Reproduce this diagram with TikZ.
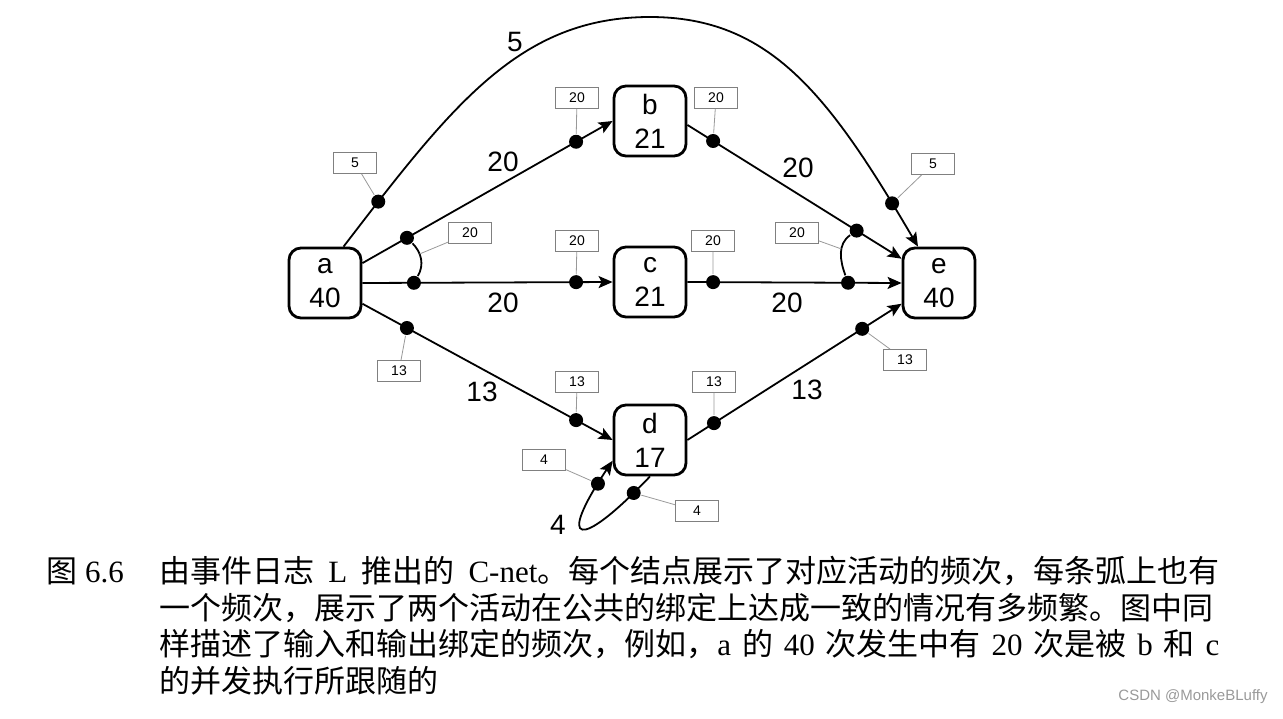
\documentclass[tikz,border=0pt]{standalone}
\usepackage{fontspec}
\setmainfont{Liberation Serif}
\setsansfont{Liberation Sans}
\newfontfamily\cjkfont{Noto Sans CJK SC}
\newcommand{\zhtext}[1]{{\cjkfont #1}}
\usepackage{tikz}
\usetikzlibrary{arrows.meta}
\definecolor{tagbox}{gray}{0.5}
\definecolor{tagline}{gray}{0.6}
\definecolor{wmark}{gray}{0.6}

\begin{document}
\begin{tikzpicture}[x=0.5pt,y=-0.5pt,
  font=\sffamily\fontsize{14}{17}\selectfont,
  act/.style={draw,line width=1.4pt,rounded corners=6pt,minimum width=36pt,minimum height=35pt,align=center,inner sep=0pt},
  flow/.style={line width=0.9pt,-{Stealth[length=7pt,width=6pt,inset=1.5pt]}},
  bind/.style={line width=0.9pt},
  dot/.style={circle,fill=black,minimum size=7pt,inner sep=0pt},
  tag/.style={draw=tagbox,line width=0.4pt,minimum width=21.5pt,minimum height=10.5pt,inner sep=0pt,font=\sffamily\fontsize{7}{8}\selectfont},
  link/.style={draw=tagline,line width=0.4pt},
  cnt/.style={inner sep=0pt},
  captext/.style={anchor=base west,inner sep=0pt,font=\rmfamily\fontsize{15.5}{18}\selectfont}
]
\useasboundingbox (0,0) rectangle (1283,718);

\node[act] (a) at (325,283) {a\\40};
\node[act] (b) at (650,121) {b\\21};
\node[act] (c) at (650,282) {c\\21};
\node[act] (d) at (650,440) {d\\17};
\node[act] (e) at (939,283) {e\\40};

\draw[flow] (a.28) -- (b.west) node[dot,pos=.178] (ab1) {} node[dot,pos=.854] (ab2) {};
\draw[flow] (a.east) -- (c.west) node[dot,pos=.206] (ac1) {} node[dot,pos=.854] (ac2) {};
\draw[flow] (a.-29) -- (d.west) node[dot,pos=.178] (ad1) {} node[dot,pos=.854] (ad2) {};
\draw[flow] (b.-6) -- (e.147) node[dot,pos=.12] (be1) {} node[dot,pos=.79] (be2) {};
\draw[flow] (c.east) -- (e.west) node[dot,pos=.12] (ce1) {} node[dot,pos=.75] (ce2) {};
\draw[flow] (d.east) -- (e.209) node[dot,pos=.124] (de1) {} node[dot,pos=.816] (de2) {};
\draw[flow] (a.63) .. controls (453,104) and (520,17) .. (650,17) node[dot,pos=.11] (ae1) {}
  .. controls (770,17) and (829,95) .. (e.120) node[dot,pos=.9] (ae2) {};
\draw[flow] (d.south) .. controls (578,552) and (556,545) .. (d.209)
  node[dot,pos=.08] (dd1) {} node[dot,pos=.9] (dd2) {};

% bindings
\draw[bind] (ab1) to[out=-45,in=60] coordinate[pos=.35] (ina) (ac1);
\draw[bind] (be2) to[out=215,in=110] coordinate[pos=.4] (ine) (ce2);

\node[cnt] (n5) at (515,42) {5};
\node[cnt] (nab) at (503,162) {20};
\node[cnt] (nac) at (503,303) {20};
\node[cnt] (nad) at (482,392) {13};
\node[cnt] (nbe) at (798,168) {20};
\node[cnt] (nce) at (787,303) {20};
\node[cnt] (nde) at (807,390) {13};
\node[cnt] (ndd) at (558,525) {4};

\node[tag] (t5a) at (355,163) {5};
\node[tag] (t20a) at (470,233) {20};
\node[tag] (t13a) at (399,371) {13};
\node[tag] (t20b1) at (577,98) {20};
\node[tag] (t20b2) at (716,98) {20};
\node[tag] (t20c1) at (577,241) {20};
\node[tag] (t20c2) at (713,241) {20};
\node[tag] (t13d1) at (577,382) {13};
\node[tag] (t13d2) at (714,382) {13};
\node[tag] (t4l) at (544,460) {4};
\node[tag] (t4r) at (697,511) {4};
\node[tag] (t5e) at (933,164) {5};
\node[tag] (t20e) at (797,233) {20};
\node[tag] (t13e) at (905,360) {13};
\draw[link] (t5a) -- (ae1);
\draw[link] (t20a) -- (ina);
\draw[link] (t13a) -- (ad1);
\draw[link] (t20b1) -- (ab2);
\draw[link] (t20b2) -- (be1);
\draw[link] (t20c1) -- (ac2);
\draw[link] (t20c2) -- (ce1);
\draw[link] (t13d1) -- (ad2);
\draw[link] (t13d2) -- (de1);
\draw[link] (t4l) -- (dd2);
\draw[link] (t4r) -- (dd1);
\draw[link] (t5e) -- (ae2);
\draw[link] (t20e) -- (ine);
\draw[link] (t13e) -- (de2);

\node[captext] (fig) at (46,582) {\zhtext{图} 6.6};
\node[captext] (cap1) at (159,582) {\makebox[530pt][s]{\zhtext{由事件日志} L \zhtext{推出的} C-net\zhtext{。每个结点展示了对应活动的频次，每条弧上也有}}};
\node[captext] (cap2) at (159,619) {\zhtext{一个频次，展示了两个活动在公共的绑定上达成一致的情况有多频繁。图中同}};
\node[captext] (cap3) at (159,655) {\makebox[530pt][s]{\zhtext{样描述了输入和输出绑定的频次，例如，}a \zhtext{的} 40 \zhtext{次发生中有} 20 \zhtext{次是被} b \zhtext{和} c}};
\node[captext] (cap4) at (159,692) {\zhtext{的并发执行所跟随的}};
\node[anchor=east,inner sep=0pt,text=wmark,font=\sffamily\fontsize{7.5}{9}\selectfont] (wm) at (1268,697) {CSDN @MonkeBLuffy};
\end{tikzpicture}
\end{document}
